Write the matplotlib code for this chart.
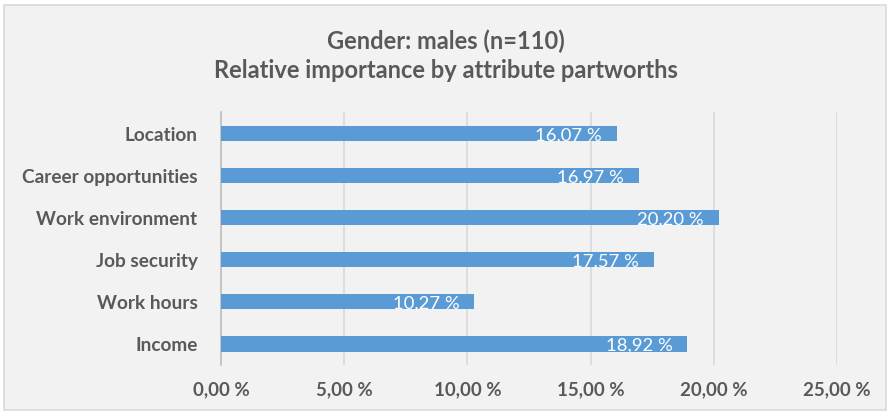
import matplotlib
matplotlib.use("Agg")
import matplotlib.pyplot as plt
from matplotlib.patches import Rectangle

# attribute importances, listed top to bottom
categories = ["Location", "Career opportunities", "Work environment",
              "Job security", "Work hours", "Income"]
values = [16.07, 16.97, 20.20, 17.57, 10.27, 18.92]
xticks = [0, 5, 10, 15, 20, 25]
title_lines = ["Gender: males (n=110)", "Relative importance by attribute partworths"]

BAR = "#5b9bd5"
TXT = "#595959"
GRID = "#d9d9d9"
BG = "#f2f2f2"

plt.rcParams["font.family"] = ["Lato", "DejaVu Sans"]

W, H = 892, 415
fig = plt.figure(figsize=(W / 100, H / 100), dpi=100, facecolor="white")

# chart area frame
fig.patches.append(Rectangle((4 / W, 1 - 410 / H), 882 / W, 405 / H,
                             transform=fig.transFigure, facecolor=BG,
                             edgecolor=GRID, linewidth=1.2, zorder=-10))

ax = fig.add_axes([221 / W, 1 - 365 / H, 616 / W, 252.5 / H])
ax.set_facecolor("none")
ax.set_zorder(2)

n = len(categories)
ypos = list(range(n - 1, -1, -1))
ax.barh(ypos, values, height=0.36, color=BAR, zorder=3)

for y, v in zip(ypos, values):
    ax.text(v - 0.6, y - 0.04, f"{v:.2f} %".replace(".", ","), ha="right",
            va="center", color="white", fontsize=13.3, zorder=4)

ax.set_xlim(0, 25)
ax.set_ylim(-0.5, n - 0.5)
ax.set_xticks(xticks)
ax.set_xticklabels([f"{t:.2f} %".replace(".", ",") for t in xticks],
                   fontsize=13.5, fontweight="bold", color=TXT)
ax.set_yticks(ypos)
ax.set_yticklabels(categories, fontsize=13.7, fontweight="bold", color=TXT)
ax.tick_params(axis="both", length=0)
ax.tick_params(axis="x", pad=12)
ax.tick_params(axis="y", pad=17)

ax.grid(axis="x", color=GRID, linewidth=1.2, zorder=1)
for s in ["top", "right", "bottom"]:
    ax.spines[s].set_visible(False)
ax.spines["left"].set_color("#bfbfbf")
ax.spines["left"].set_linewidth(1.2)

fig.text(0.5, 1 - 41 / H, title_lines[0], ha="center", va="center",
         fontsize=17, fontweight="bold", color=TXT)
fig.text(0.5, 1 - 71 / H, title_lines[1], ha="center", va="center",
         fontsize=17, fontweight="bold", color=TXT)

fig.savefig("out.png", dpi=100, facecolor="white")
